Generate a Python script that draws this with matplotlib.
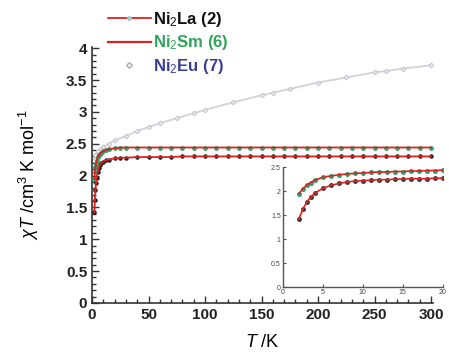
import matplotlib
matplotlib.use("Agg")
import matplotlib.pyplot as plt
from matplotlib.ticker import MultipleLocator
from matplotlib.lines import Line2D

plt.rcParams['font.family'] = ['Liberation Sans', 'DejaVu Sans']
plt.rcParams['mathtext.fontset'] = 'custom'
plt.rcParams['mathtext.rm'] = 'Liberation Sans'
plt.rcParams['mathtext.it'] = 'Liberation Sans:italic'
plt.rcParams['mathtext.bf'] = 'Liberation Sans:bold'

# ---- data ----
T_main = [2, 2.5, 3, 3.5, 4, 5, 6, 7, 8, 10, 12, 15, 20, 25, 30, 40, 50, 60, 70, 80, 90, 100,
          110, 120, 130, 140, 150, 160, 170, 180, 190, 200, 210, 220, 230, 240, 250, 260,
          270, 280, 290, 300]
La_main = [1.42, 1.62, 1.78, 1.88, 1.96, 2.06, 2.12, 2.16, 2.19, 2.22, 2.24, 2.25, 2.27, 2.28,
           2.28, 2.29, 2.29, 2.29, 2.29, 2.30, 2.30, 2.30, 2.30, 2.30, 2.30, 2.30, 2.30, 2.30,
           2.30, 2.30, 2.30, 2.30, 2.30, 2.30, 2.30, 2.30, 2.30, 2.30, 2.30, 2.30, 2.30, 2.30]
Sm_main = [1.95, 2.05, 2.13, 2.18, 2.23, 2.29, 2.32, 2.34, 2.36, 2.38, 2.40, 2.41, 2.43, 2.44,
           2.44, 2.44, 2.44, 2.44, 2.44, 2.44, 2.44, 2.44, 2.44, 2.44, 2.44, 2.44, 2.44, 2.44,
           2.44, 2.44, 2.44, 2.44, 2.44, 2.44, 2.44, 2.44, 2.44, 2.44, 2.44, 2.44, 2.44, 2.44]
T_Eu = [2, 3, 5, 8, 10, 15, 20, 30, 40, 50, 60, 75, 90, 100, 125, 150, 160, 175, 200, 225,
        250, 260, 275, 300]
Eu = [2.25, 2.32, 2.38, 2.42, 2.45, 2.50, 2.55, 2.62, 2.70, 2.76, 2.82, 2.90, 2.98, 3.03,
      3.15, 3.26, 3.30, 3.36, 3.46, 3.54, 3.62, 3.64, 3.68, 3.73]

T_in = [2, 2.5, 3, 3.5, 4, 5, 6, 7, 8, 9, 10, 11, 12, 13, 14, 15, 16, 17, 18, 19, 20]
La_in = [1.42, 1.62, 1.78, 1.88, 1.96, 2.06, 2.12, 2.16, 2.19, 2.21, 2.22, 2.23, 2.24,
         2.24, 2.25, 2.25, 2.26, 2.26, 2.26, 2.27, 2.27]
Sm_in = [1.95, 2.05, 2.13, 2.18, 2.23, 2.29, 2.32, 2.34, 2.36, 2.37, 2.38, 2.39, 2.40,
         2.40, 2.41, 2.41, 2.42, 2.42, 2.43, 2.43, 2.44]

legend_labels = [r'Ni$_2$La (2)', r'Ni$_2$Sm (6)', r'Ni$_2$Eu (7)']
legend_colors = ['#111111', '#2ea65a', '#3a3f95']

fig = plt.figure(figsize=(4.49, 3.58), dpi=100)
ax = fig.add_axes([0.205, 0.154, 0.76, 0.715])

red = '#e02020'
ax.plot(T_Eu, Eu, color='#d4d4dc', lw=1.4, marker='D', ms=2.5, mfc='#e8e8ee', mec='#b8b8c2',
        mew=0.5, zorder=2)
ax.plot(T_main, La_main, ls='none', marker='o', ms=2.6, mfc='#222222', mec='#111111',
        mew=0.5, zorder=3)
ax.plot(T_main, La_main, color=red, lw=1.3, zorder=4)
ax.plot(T_main, Sm_main, ls='none', marker='o', ms=2.8, mfc='#22b070', mec='#1a9a5a',
        mew=0.5, zorder=3)
ax.plot(T_main, Sm_main, color=red, lw=1.3, zorder=4)

ax.set_xlim(0, 302)
ax.set_ylim(0, 4.02)
ax.xaxis.set_major_locator(MultipleLocator(50))
ax.xaxis.set_minor_locator(MultipleLocator(10))
ax.yaxis.set_major_locator(MultipleLocator(0.5))
ax.yaxis.set_minor_locator(MultipleLocator(0.1))
ax.yaxis.set_major_formatter(plt.FuncFormatter(lambda v, p: ('%g' % v)))
ax.tick_params(which='both', direction='in', width=1, colors='#333333', labelcolor='#222222',
               labelsize=11)
ax.tick_params(which='major', length=5)
ax.tick_params(which='minor', length=3)
for s in ['top', 'right']:
    ax.spines[s].set_visible(False)
for s in ['left', 'bottom']:
    ax.spines[s].set_linewidth(1.2)
    ax.spines[s].set_color('#333333')
for lab in ax.get_xticklabels() + ax.get_yticklabels():
    lab.set_fontweight('bold')

ax.set_xlabel(r'$T$ /K', fontsize=13, labelpad=9)
ax.set_ylabel(r'$\chi T$ /cm$^3$ K mol$^{-1}$', fontsize=13, labelpad=18)

handles = [
    Line2D([], [], color=red, lw=1.3, marker='o', ms=2.5, mfc='#9cc8d0', mec='#9cc8d0'),
    Line2D([], [], color=red, lw=1.6),
    Line2D([], [], ls='none', marker='D', ms=3, mfc='#f0f0f4', mec='#b0b0b8'),
]
leg = fig.legend(handles, legend_labels, loc='upper left', bbox_to_anchor=(0.225, 0.99),
                 frameon=False, fontsize=12, handlelength=2.6, handletextpad=0.1,
                 labelspacing=0.25, borderaxespad=0)
for t, c in zip(leg.get_texts(), legend_colors):
    t.set_color(c)
    t.set_fontweight('bold')

# ---- inset ----
ins = fig.add_axes([0.630, 0.198, 0.356, 0.335])
ins.patch.set_alpha(0)
ins.plot(T_in, La_in, ls='none', marker='o', ms=2.5, mfc='#555555', mec='#333333', zorder=3)
ins.plot(T_in, La_in, color=red, lw=1.2, zorder=4)
ins.plot(T_in, Sm_in, ls='none', marker='o', ms=2.5, mfc='#33b890', mec='#1e9a60', zorder=3)
ins.plot(T_in, Sm_in, color=red, lw=1.2, zorder=4)
ins.set_xlim(0, 20)
ins.set_ylim(0, 2.5)
ins.xaxis.set_major_locator(MultipleLocator(5))
ins.yaxis.set_major_locator(MultipleLocator(0.5))
ins.yaxis.set_major_formatter(plt.FuncFormatter(lambda v, p: ('%g' % v)))
ins.tick_params(direction='in', length=2.5, width=0.8, labelsize=5, pad=1.5,
                colors='#555555', labelcolor='#444444')
for s in ['top', 'right']:
    ins.spines[s].set_visible(False)
for s in ['left', 'bottom']:
    ins.spines[s].set_linewidth(1.0)
    ins.spines[s].set_color('#555555')

fig.savefig('out.png', dpi=100)
